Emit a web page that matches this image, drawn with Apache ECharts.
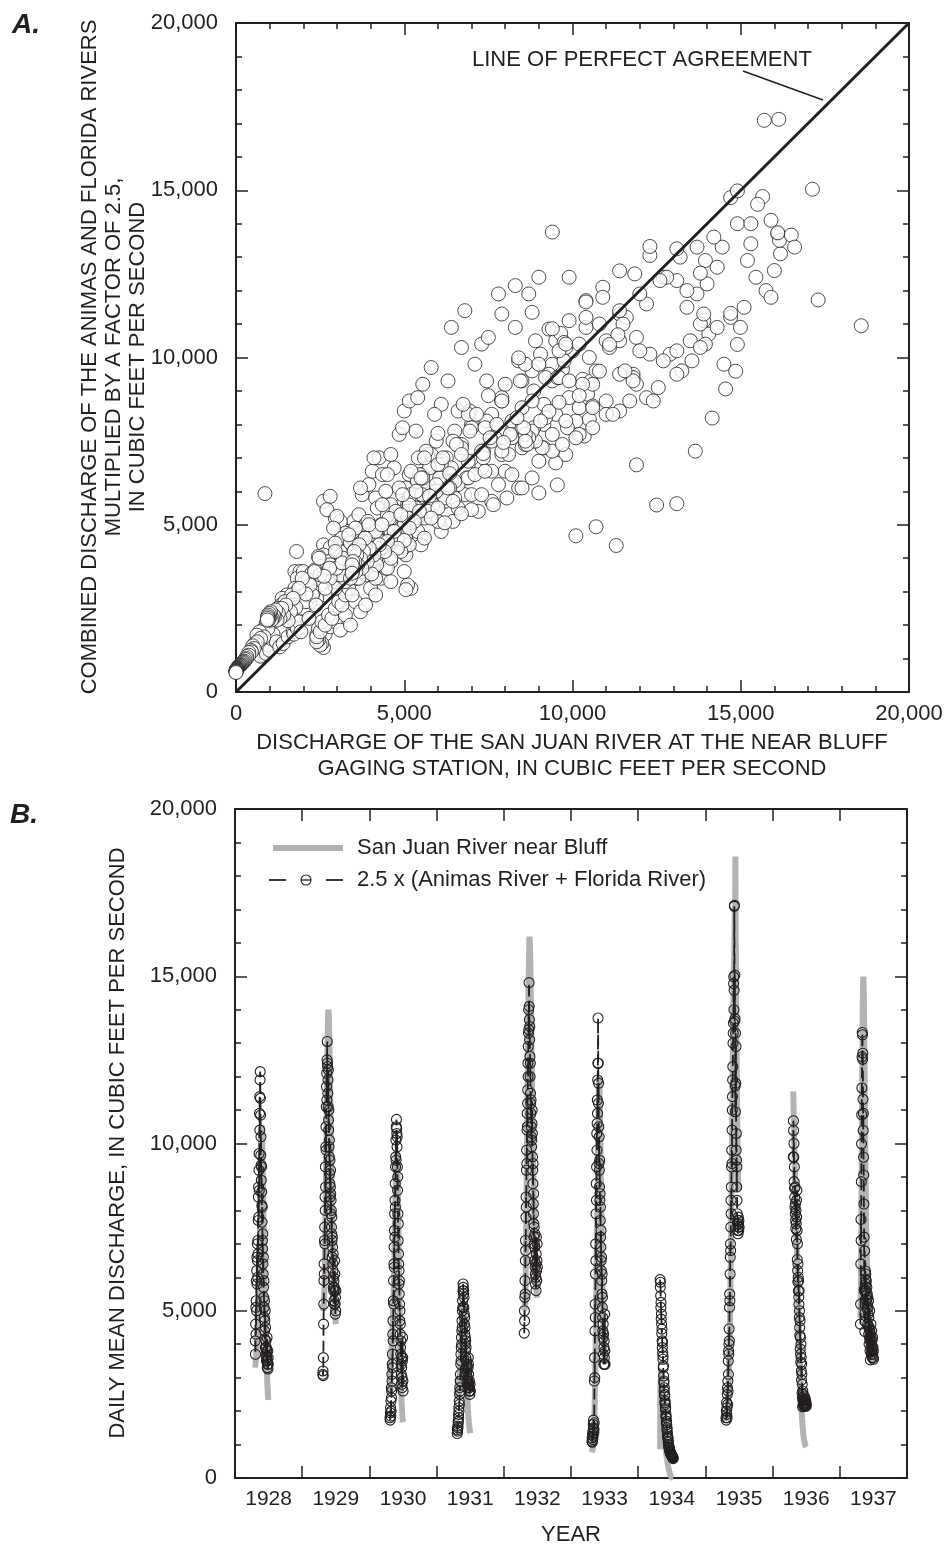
<!DOCTYPE html>
<html><head><meta charset="utf-8">
<script src="https://cdn.jsdelivr.net/npm/echarts@6/dist/echarts.min.js"></script>
<style>html,body{margin:0;padding:0;background:#fff}#c{width:946px;height:1552px}</style>
</head><body><div id="c"></div>
<script>
// ---------- DATA ----------
const years = [1928,1929,1930,1931,1932,1933,1934,1935,1936,1937];
const yearLabels = ['1928','1929','1930','1931','1932','1933','1934','1935','1936','1937'];
// first day-of-year of the plotted daily record in each year
const startDay = [110,112,112,112,111,114,119,112,112,112];
const ticks = [0,5000,10000,15000,20000];

// San Juan River near Bluff, daily mean discharge (ft3/s)
const sj1928 = [3300,3350,3450,3500,3600,3650,3750,3850,3950,4050,4150,4250,4350,4450,4600,4700,4850,5000,5150,5350,5550,5800,6100,6400,6800,7300,7800,8300,8800,9300,9700,10000,10300,10450,10550,10600,10500,10350,10100,9800,9500,9150,8800,8400,8000,7600,7200,6800,6450,6100,5800,5500,5250,5000,4800,4600,4400,4200,4000,3850,3700,3550,3400,3250,3100,2950,2800,2700,2600,2500,2400,2330];
const sj1929 = [5200,5100,5050,5000,5050,5100,5200,5350,5500,5700,5950,6250,6600,7000,7450,7900,8400,8900,9400,9900,10400,10900,11400,11850,12300,12700,13100,13400,13700,13900,14000,14050,13950,13800,13550,13250,12900,12550,12200,11800,11400,11000,10600,10200,9850,9500,9150,8800,8500,8200,7900,7600,7350,7100,6850,6600,6400,6200,6000,5800,5650,5500,5350,5250,5150,5050,4950,4900,4800,4750,4650,4600];
const sj1930 = [2500,2650,2800,2950,3100,3250,3400,3550,3700,3850,4000,4150,4300,4450,4600,4750,4900,5050,5200,5400,5600,5850,6100,6400,6700,7000,7300,7600,7900,8200,8500,8800,9050,9300,9500,9650,9750,9800,9750,9600,9400,9150,8850,8500,8100,7700,7300,6900,6500,6100,5700,5300,4950,4600,4300,4000,3700,3450,3200,2950,2750,2550,2400,2250,2150,2050,1950,1870,1800,1750,1700,1670];
const sj1931 = [2600,2550,2500,2450,2400,2400,2400,2450,2500,2550,2650,2750,2850,2950,3050,3150,3250,3350,3450,3600,3750,3900,4050,4200,4350,4500,4600,4700,4800,4900,5000,5100,5150,5200,5200,5150,5100,5000,4900,4750,4600,4450,4300,4150,4000,3850,3700,3550,3400,3250,3100,2950,2800,2650,2500,2400,2300,2200,2100,2000,1900,1820,1750,1680,1620,1560,1510,1470,1430,1400,1370,1340];
const sj1932 = [5000,5000,5050,5100,5200,5350,5550,5800,6100,6500,6950,7450,8000,8600,9200,9800,10400,11000,11600,12200,12800,13400,13950,14450,14900,15300,15650,15900,16100,16180,16150,16000,15750,15450,15100,14700,14300,13900,13500,13100,12700,12300,11900,11500,11100,10700,10300,9900,9550,9200,8850,8500,8200,7900,7600,7350,7100,6900,6700,6500,6350,6200,6050,5950,5850,5750,5650,5580,5520,5460,5420,5390];
const sj1933 = [760,800,730,850,900,950,1000,1050,1100,1200,1300,1400,1550,1750,2000,2300,2600,2950,3300,3700,4100,4500,4950,5400,5900,6300,6700,7100,7500,7900,8300,8700,9000,9400,9900,10400,10900,11400,11800,12000,11900,11700,11400,11000,10600,10200,9800,9400,9000,8600,8200,7800,7400,7000,6600,6300,6000,5700,5400,5150,4900,4700,4500,4300,4150,4000,3850,3750,3650,3550,3450,3400];
const sj1934 = [860,2600,2800,2700,3100,3000,3250,2900,3150,2800,2950,2600,2750,2450,2550,2250,2350,2050,2150,1850,1950,1650,1750,1450,1550,1250,1380,1050,1220,900,1080,800,950,700,830,620,730,560,630,500,540,440,460,380,380,320,310,270,250,220,190,170,150,130,110,90,75,60,50,40,30,25,20,15,10,8,5,3,0,0,0,0];
const sj1935 = [1700,1720,1750,1780,1820,1870,1930,2000,2080,2170,2270,2380,2500,2650,2800,2980,3180,3400,3650,3920,4200,4500,4850,5200,5600,6000,6450,6900,7400,7900,8450,9000,9600,10200,10800,11400,12000,12600,13200,13700,14200,14700,14900,15300,15500,15700,16130,16500,17130,16100,17300,18580,16600,15900,15200,14500,13800,13100,12400,11800,11200,10600,10100,9700,9400,9100,8900,8800,8700,8650,8600,8600];
const sj1936 = [11560,11350,11100,10800,10500,10200,9900,9600,9300,9050,8800,8550,8350,8150,7950,7750,7550,7350,7150,6950,6750,6550,6350,6150,5950,5750,5550,5350,5150,4950,4750,4550,4350,4150,3950,3750,3550,3350,3150,2950,2780,2620,2470,2330,2200,2080,1970,1870,1780,1700,1620,1550,1480,1420,1360,1310,1260,1220,1180,1140,1110,1080,1050,1030,1010,990,975,960,950,940,935,930];
const sj1937 = [4800,5100,5500,6000,6700,7500,8400,9400,10400,11400,12300,13100,13800,14300,14700,14900,14990,14850,14550,14150,13650,13100,12500,11900,11300,10700,10100,9550,9000,8500,8050,7650,7300,7000,6700,6450,6200,6000,5800,5600,5450,5300,5150,5000,4900,4800,4700,4600,4500,4420,4340,4260,4180,4100,4030,3960,3900,3840,3790,3740,3700,3660,3620,3590,3560,3530,3510,3490,3470,3460,3450,3450];

// 2.5 x (Animas River + Florida River), daily mean discharge (ft3/s)
const af1928 = [4100,3700,4600,5100,4300,5300,5900,5000,6200,6600,5800,7000,6500,6000,7100,6700,7700,8400,8700,7800,9200,9700,8600,10900,11400,10400,11900,12150,11350,10850,9650,10200,9350,8900,9300,8550,8150,7650,8100,7100,6850,7300,6400,6100,6600,5700,5400,5900,5100,4800,5300,4400,4700,4150,5000,3900,4500,3700,4100,3650,3900,3500,3800,3600,4200,3300,3500,3400,3800,3260,3600,3400];
const af1929 = [3100,3200,3060,3600,4600,5200,5900,6400,6100,7100,7500,7000,8400,8000,9300,8700,9900,10500,9800,11100,11700,12100,11300,12500,13050,12400,12300,11500,11900,11100,12200,10700,10400,11000,9900,9600,10100,9100,8800,9500,8400,8700,9200,8500,7900,8300,8000,7500,7300,7800,7100,6600,7200,6900,6400,6200,6700,5700,6000,5600,5900,5300,5200,5700,6500,6100,5600,5200,4900,5400,5000,5600];
const af1930 = [1800,1730,1950,2100,1850,2300,2000,2700,2400,2600,3100,2900,3400,3700,3300,4300,4700,4100,5300,5900,5200,6400,6900,6300,7400,7900,7200,8300,8800,8100,9300,9600,10100,9500,10500,10720,10450,10300,9900,10200,9300,8600,9000,7900,7100,7600,6700,6400,5800,6200,5500,5900,5200,4700,5000,4300,4600,3900,3700,4100,3400,3100,3600,3300,2800,3000,2700,3500,4200,3600,2900,2600];
const af1931 = [1330,1450,1400,1550,1500,1700,1650,1900,1800,2100,2000,2300,2200,2500,2700,2600,2900,3100,2900,3400,3700,3500,3900,4200,4000,4400,4700,4500,5000,5300,5100,5600,5800,5700,5500,5600,5100,5400,4900,4600,4800,4300,4500,4000,4200,3800,4100,3600,3900,3300,3500,3100,3400,2900,3200,2800,3000,2700,2900,3300,3600,3400,3100,2800,2700,2600,2900,2700,2500,2600,2800,2600];
const af1932 = [4330,5000,4700,5400,5900,5500,6500,7100,6800,7800,8400,8100,9200,9800,9400,10400,10900,10500,11200,11600,12400,12000,12900,13300,14000,13400,14810,14100,13700,13100,13500,12600,12000,12400,11500,11200,10900,11300,10500,10200,9900,10100,10600,11000,10300,9600,9200,8800,9400,8200,7900,8500,7600,7200,7500,7000,6500,6900,7300,6300,6100,5800,6400,6000,5600,6700,7200,6200,5900,6500,7000,6300];
const af1933 = [1100,1200,1070,1300,1150,1400,1250,1600,1730,1500,1350,1450,1650,2900,3600,3000,4400,5200,4800,6100,7000,6500,7900,8800,8300,9300,10300,9800,10600,11300,10900,11900,12400,13750,12400,11200,11800,10500,9400,10200,9200,8700,9500,8300,8500,7700,8100,7200,6900,7400,6500,6200,6600,5900,5500,6100,5100,5400,4800,4400,4200,4600,3700,4300,3400,3900,4100,3600,3400,4900,3800,3400];
const af1934 = [5930,5700,5850,5450,5100,5250,4750,4900,4600,4320,4450,4100,3900,4050,3750,3550,3650,3300,3350,3050,2850,2900,2600,2700,2450,2500,2250,2300,2200,2050,2100,1850,1900,1800,1650,1700,1600,1450,1500,1380,1300,1250,1200,1180,1100,1060,1000,970,920,900,880,850,820,800,790,770,760,740,720,710,700,690,680,670,660,650,640,630,620,610,600,580];
const af1935 = [1800,1730,2000,2260,1900,2100,1800,2500,2700,2200,2900,2600,3500,3100,3800,3700,4000,4460,4100,5100,5500,5300,6100,6600,7000,6800,7500,8300,7900,8700,9300,9800,9400,10400,11000,11400,11900,12300,13000,13300,13600,14780,14980,14000,14580,17090,17120,13660,15030,13730,11720,10950,13300,11800,12900,9800,10300,9500,8700,9300,8300,7900,7600,7400,7700,7300,7500,7800,7600,7400,7700,7500];
const af1936 = [9600,10680,10390,9590,10000,8860,9300,8660,8390,8100,8700,7900,8200,7700,7460,8000,7600,7130,8300,7800,8600,7400,6530,7000,6200,5860,6400,6000,5590,5900,5400,5190,5600,4800,5000,4500,4260,4700,3860,4200,3700,3460,4000,3600,3200,2930,3400,3100,2530,2800,2400,2130,2600,2300,2500,2200,2350,2150,2450,2250,2300,2200,2150,2400,2250,2350,2200,2150,2300,2250,2200,2150];
const af1937 = [4600,5200,6400,7730,7100,8860,9990,10860,11660,12590,13320,13250,12520,12700,11320,10390,10900,9590,9060,8190,7200,5630,5590,6790,4380,4940,4670,6190,5950,6100,5800,5600,5900,5450,5330,5700,5060,5500,5200,4600,5400,5100,4900,4530,5300,4300,4800,4000,4500,4200,5000,4400,3800,4100,3530,4300,3900,4600,4200,3700,4000,4400,3800,4100,3600,3900,4200,3700,3900,3600,3800,3550];

const SJ = [sj1928,sj1929,sj1930,sj1931,sj1932,sj1933,sj1934,sj1935,sj1936,sj1937];
const AF = [af1928,af1929,af1930,af1931,af1932,af1933,af1934,af1935,af1936,af1937];

// ---------- BUILD ----------
const scatterData = [], grayData = [], blackData = [];
years.forEach((y, k) => {
  const s = SJ[k], c = AF[k];
  const n = Math.min(s.length, c.length);
  for (let i = 0; i < n; i++) {
    scatterData.push([s[i], c[i]]);
    const t = y + (startDay[k] + i) / 365;
    grayData.push([t, s[i]]);
    blackData.push([t, c[i]]);
  }
  grayData.push([y + 0.9, '-']);
  blackData.push([y + 0.9, '-']);
});

const ink = '#231f20';
const gray = '#b3b3b3';
const FF = "'Liberation Sans', Arial, Helvetica, sans-serif";
const fmt = v => Number(v).toLocaleString('en-US');
const aLine = {show: true, onZero: false, lineStyle: {color: ink, width: 2}};
const tick = {show: true, inside: true, length: 12, lineStyle: {color: ink, width: 1.5}};
const minor = {show: true, splitNumber: 5, length: 6, lineStyle: {color: ink, width: 1.5}};
const lab = (m) => ({show: true, margin: m, fontSize: 22, fontFamily: FF, color: ink, formatter: fmt});
function valAxis(grid, pos, labels, m) {
  return {gridIndex: grid, type: 'value', position: pos, min: ticks[0], max: ticks[ticks.length-1],
    interval: ticks[1]-ticks[0], axisLine: aLine, axisTick: tick, minorTick: minor,
    splitLine: {show: false}, minorSplitLine: {show: false},
    axisLabel: labels ? lab(m) : {show: false}};
}
const txt = (x, y, s, extra) => Object.assign({type: 'text', x: x, y: y,
  style: {text: s, font: '22px ' + FF, fill: ink, textAlign: 'center', textVerticalAlign: 'middle'}}, extra || {});

const chart = echarts.init(document.getElementById('c'), null, {renderer: 'canvas'});
chart.setOption({
  animation: false,
  backgroundColor: '#fff',
  grid: [
    {left: 236, top: 23, width: 673, height: 669},
    {left: 235, top: 809, width: 672, height: 669}
  ],
  xAxis: [
    valAxis(0, 'bottom', true, 11),
    valAxis(0, 'top', false),
    {gridIndex: 1, type: 'category', position: 'bottom', data: yearLabels, boundaryGap: true,
      axisLine: aLine, axisTick: Object.assign({}, tick, {alignWithLabel: false}),
      axisLabel: {show: true, interval: 0, margin: 11, fontSize: 21, fontFamily: FF, color: ink}},
    {gridIndex: 1, type: 'category', position: 'top', data: yearLabels, boundaryGap: true,
      axisLine: aLine, axisTick: Object.assign({}, tick, {alignWithLabel: false}),
      axisLabel: {show: false}},
    {gridIndex: 1, type: 'value', min: years[0], max: years[years.length-1] + 1, show: false}
  ],
  yAxis: [
    valAxis(0, 'left', true, 18),
    valAxis(0, 'right', false),
    valAxis(1, 'left', true, 18),
    valAxis(1, 'right', false)
  ],
  series: [
    {type: 'scatter', xAxisIndex: 0, yAxisIndex: 0, data: scatterData, symbol: 'circle', symbolSize: 14,
      itemStyle: {color: '#fff', borderColor: ink, borderWidth: 1}, z: 2, silent: true},
    {type: 'line', xAxisIndex: 0, yAxisIndex: 0, data: [[ticks[0], ticks[0]], [ticks[4], ticks[4]]],
      symbol: 'none', lineStyle: {color: ink, width: 3}, z: 3, silent: true},
    {name: 'San Juan River near Bluff', type: 'line', xAxisIndex: 4, yAxisIndex: 2, data: grayData,
      symbol: 'none', connectNulls: false, lineStyle: {color: gray, width: 6}, z: 2, silent: true},
    {name: '2.5 x (Animas River + Florida River)', type: 'line', xAxisIndex: 4, yAxisIndex: 2, data: blackData,
      symbol: 'circle', symbolSize: 10, showAllSymbol: true, connectNulls: false,
      itemStyle: {color: 'rgba(255,255,255,0)', borderColor: ink, borderWidth: 1.1},
      lineStyle: {color: ink, width: 1.8, type: [11, 5]}, z: 3, silent: true}
  ],
  graphic: [
    {type: 'text', x: 12, y: 25, style: {text: 'A.', font: 'italic bold 28px ' + FF, fill: ink, textVerticalAlign: 'middle'}},
    {type: 'text', x: 10, y: 815, style: {text: 'B.', font: 'italic bold 28px ' + FF, fill: ink, textVerticalAlign: 'middle'}},
    {type: 'text', x: 472, y: 60, style: {text: 'LINE OF PERFECT AGREEMENT', font: '22px ' + FF, fill: ink, textVerticalAlign: 'middle'}},
    {type: 'line', shape: {x1: 743, y1: 71, x2: 823, y2: 100}, style: {stroke: ink, lineWidth: 1.5}},
    txt(572, 743, 'DISCHARGE OF THE SAN JUAN RIVER AT THE NEAR BLUFF'),
    txt(572, 769, 'GAGING STATION, IN CUBIC FEET PER SECOND'),
    txt(90, 357, 'COMBINED DISCHARGE OF THE ANIMAS AND FLORIDA RIVERS', {rotation: Math.PI / 2}),
    txt(114, 357, 'MULTIPLIED BY A FACTOR OF 2.5,', {rotation: Math.PI / 2}),
    txt(138, 357, 'IN CUBIC FEET PER SECOND', {rotation: Math.PI / 2}),
    txt(118, 1143, 'DAILY MEAN DISCHARGE, IN CUBIC FEET PER SECOND', {rotation: Math.PI / 2}),
    txt(571, 1535, 'YEAR'),
    // legend
    {type: 'rect', shape: {x: 273, y: 845, width: 70, height: 6}, style: {fill: gray}},
    {type: 'text', x: 357, y: 848, style: {text: 'San Juan River near Bluff', font: '22px ' + FF, fill: ink, textVerticalAlign: 'middle'}},
    {type: 'line', shape: {x1: 269, y1: 880, x2: 286, y2: 880}, style: {stroke: ink, lineWidth: 1.8}},
    {type: 'line', shape: {x1: 301, y1: 880, x2: 311, y2: 880}, style: {stroke: ink, lineWidth: 1.3}},
    {type: 'circle', shape: {cx: 306, cy: 880, r: 5}, style: {fill: 'none', stroke: ink, lineWidth: 1.1}},
    {type: 'line', shape: {x1: 326, y1: 880, x2: 343, y2: 880}, style: {stroke: ink, lineWidth: 1.8}},
    {type: 'text', x: 357, y: 880, style: {text: '2.5 x (Animas River + Florida River)', font: '22px ' + FF, fill: ink, textVerticalAlign: 'middle'}}
  ]
});
</script>
</body></html>
